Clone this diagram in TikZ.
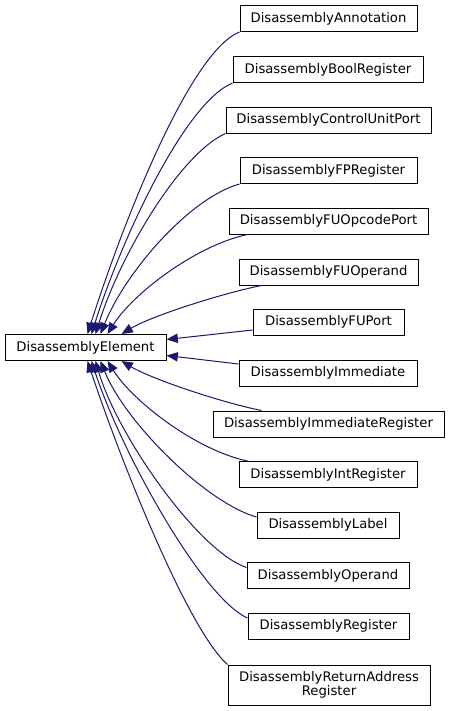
\documentclass[tikz,border=0pt]{standalone}
\usepackage{fontspec}
\setmainfont{DejaVu Sans}
\usetikzlibrary{arrows.meta, positioning, calc}
\definecolor{edgeblue}{RGB}{25,25,112}

\tikzset{
  cls/.style={draw=black, line width=0.75pt, fill=white, inner sep=0pt,
    minimum height=19.5pt, align=center, font=\fontsize{9.9pt}{11pt}\selectfont},
  edge/.style={edgeblue, line width=0.75pt, -{Triangle[length=8.5pt,width=7pt]}}
}

\begin{document}
\begin{tikzpicture}[x=0.75pt, y=-0.75pt]
  \useasboundingbox[fill=white] (0,0) rectangle (449,711);
  % base class
  \node[cls, minimum width=120.75pt] (base) at (85.5,347.5) {DisassemblyElement};
  % derived classes
  \node[cls, minimum width=132.75pt] (annotation) at (328.5,18.5)  {DisassemblyAnnotation};
  \node[cls, minimum width=142.5pt]  (boolreg)    at (328,69.5)    {DisassemblyBoolRegister};
  \node[cls, minimum width=153.75pt] (cuport)     at (328.5,120)   {DisassemblyControlUnitPort};
  \node[cls, minimum width=132.75pt] (fpreg)      at (328.5,170.5) {DisassemblyFPRegister};
  \node[cls, minimum width=149.25pt] (fuopcode)   at (328.5,221)   {DisassemblyFUOpcodePort};
  \node[cls, minimum width=134.25pt] (fuoperand)  at (328.5,272)   {DisassemblyFUOperand};
  \node[cls, minimum width=113.25pt] (fuport)     at (328.5,322)   {DisassemblyFUPort};
  \node[cls, minimum width=133.5pt]  (immediate)  at (328,373)     {DisassemblyImmediate};
  \node[cls, minimum width=173.25pt] (immreg)     at (328.5,424)   {DisassemblyImmediateRegister};
  \node[cls, minimum width=133.5pt]  (intreg)     at (328,474.5)   {DisassemblyIntRegister};
  \node[cls, minimum width=106.5pt]  (label)      at (328,525)     {DisassemblyLabel};
  \node[cls, minimum width=121.5pt]  (operand)    at (328,575.5)   {DisassemblyOperand};
  \node[cls, minimum width=120.75pt] (register)   at (328.5,626)   {DisassemblyRegister};
  \node[cls, minimum width=151.5pt, minimum height=30pt] (retaddr) at (329,685)
    {DisassemblyReturnAddress\\Register};
  % inheritance edges
  \draw[edge] (annotation.south west) .. controls +(-50,20) and +(35,-110) .. ($(base.north west)+(83,0)$);
  \draw[edge] (boolreg.south west) .. controls +(-48,20) and +(30,-95) .. ($(base.north west)+(87,0)$);
  \draw[edge] (cuport.south west) .. controls +(-45,20) and +(25,-80) .. ($(base.north west)+(91,0)$);
  \draw[edge] (fpreg.south west) .. controls +(-50,14) and +(25,-62) .. ($(base.north west)+(96,0)$);
  \draw[edge] ($(fuopcode.south west)+(19,0)$) .. controls +(-52,11) and +(25,-40) .. ($(base.north west)+(103,0)$);
  \draw[edge] ($(fuoperand.south west)+(23,0)$) .. controls +(-40,8) and +(30,-18) .. ($(base.north west)+(117,0)$);
  \draw[edge] ($(fuport.west)+(0,8)$) -- ($(base.east)+(0,-8)$);
  \draw[edge] ($(immediate.west)+(0,-9)$) -- ($(base.east)+(0,8)$);
  \draw[edge] ($(immreg.north west)+(49,0)$) .. controls +(-40,-8) and +(30,18) .. ($(base.south west)+(117,0)$);
  \draw[edge] ($(intreg.north west)+(9,0)$) .. controls +(-52,-11) and +(25,40) .. ($(base.south west)+(103,0)$);
  \draw[edge] ($(label.west)+(0,-8)$) .. controls +(-50,-14) and +(25,62) .. ($(base.south west)+(96,0)$);
  \draw[edge] ($(operand.west)+(0,-8)$) .. controls +(-48,-16) and +(22,75) .. ($(base.south west)+(91,0)$);
  \draw[edge] ($(register.west)+(0,-8)$) .. controls +(-45,-20) and +(30,92) .. ($(base.south west)+(87,0)$);
  \draw[edge] (retaddr.north west) .. controls +(-38,-33) and +(36,108) .. ($(base.south west)+(83,0)$);
\end{tikzpicture}
\end{document}
